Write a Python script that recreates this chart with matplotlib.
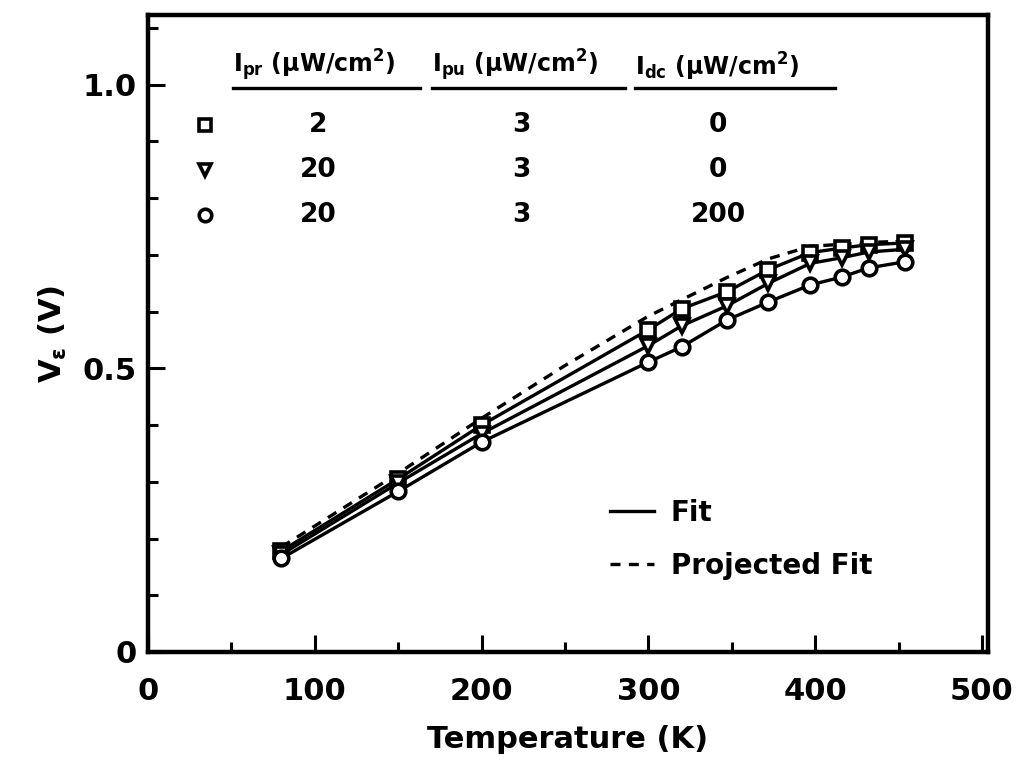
import matplotlib
matplotlib.use("Agg")
import matplotlib.pyplot as plt
from matplotlib.lines import Line2D

plt.rcParams['font.family'] = ['DejaVu Sans']
plt.rcParams['font.weight'] = 'bold'
plt.rcParams['mathtext.default'] = 'bf'

# Data
temperature = [80, 150, 200, 300, 320, 347, 372, 397, 416, 432, 454]
v_square = [0.178, 0.305, 0.400, 0.568, 0.605, 0.635, 0.674, 0.704, 0.712, 0.718, 0.721]
v_triangle = [0.172, 0.298, 0.385, 0.540, 0.575, 0.610, 0.650, 0.685, 0.695, 0.705, 0.710]
v_circle = [0.165, 0.283, 0.370, 0.511, 0.538, 0.585, 0.617, 0.647, 0.661, 0.677, 0.688]
proj_T = [80, 150, 200, 250, 300, 347, 372, 397, 432, 454]
proj_V = [0.185, 0.315, 0.412, 0.505, 0.592, 0.660, 0.693, 0.715, 0.722, 0.724]

table_markers = ['s', 'v', 'o']
col_pr = ['2', '20', '20']
col_pu = ['3', '3', '3']
col_dc = ['0', '0', '200']
headers = [r'I$_{pr}$ ($\mu$W/cm$^2$)', r'I$_{pu}$ ($\mu$W/cm$^2$)', r'I$_{dc}$ ($\mu$W/cm$^2$)']

x_ticks = [0, 100, 200, 300, 400, 500]
y_ticks = [0, 0.5, 1.0]
y_ticklabels = ['0', '0.5', '1.0']

fig = plt.figure(figsize=(10.18, 7.62), dpi=100)
ax = fig.add_axes([0.1454, 0.1444, 0.8251, 0.836])

lw = 2.4
mk = dict(markerfacecolor='white', markeredgecolor='black', markeredgewidth=2.6, markersize=10.5)
ax.plot(proj_T, proj_V, color='black', lw=lw, ls=(0, (3, 2.5)))
ax.plot(temperature, v_square, color='black', lw=lw, marker='s', **mk)
ax.plot(temperature, v_triangle, color='black', lw=lw, marker='v', **mk)
ax.plot(temperature, v_circle, color='black', lw=lw, marker='o', **mk)

ax.set_xlim(0, 503.6)
ax.set_ylim(0, 1.123)
ax.set_xticks(x_ticks)
ax.set_xticks(range(50, 500, 100), minor=True)
ax.set_yticks(y_ticks)
ax.set_yticklabels(y_ticklabels)
ax.set_yticks([0.1, 0.2, 0.3, 0.4, 0.6, 0.7, 0.8, 0.9, 1.1], minor=True)
ax.tick_params(which='both', direction='in', width=2.2, labelsize=22)
ax.tick_params(which='major', length=12)
ax.tick_params(which='minor', length=7)
ax.tick_params(axis='x', pad=18)
ax.tick_params(axis='y', pad=8)
for s in ax.spines.values():
    s.set_linewidth(3.2)

ax.set_xlabel('Temperature (K)', fontsize=22, fontweight='bold', labelpad=14)
ax.set_ylabel(r'V$_\varepsilon$ (V)', fontsize=22, fontweight='bold', labelpad=10)

# table
hx = [51, 170, 292]
for h, x0 in zip(headers, hx):
    ax.text(x0, 1.003, h, fontsize=17, fontweight='bold', ha='left', va='bottom')
for x0, x1 in [(51, 163), (170, 286), (292, 412)]:
    ax.plot([x0, x1], [0.995, 0.995], color='black', lw=2.4, clip_on=False)
rows_y = [0.929, 0.850, 0.771]
for m, a, b, c, yy in zip(table_markers, col_pr, col_pu, col_dc, rows_y):
    ax.plot([34], [yy], marker=m, color='black', markerfacecolor='white',
            markeredgewidth=2.6, markersize=9, ls='none')
    ax.text(102, yy, a, fontsize=19, fontweight='bold', ha='center', va='center')
    ax.text(224, yy, b, fontsize=19, fontweight='bold', ha='center', va='center')
    ax.text(342, yy, c, fontsize=19, fontweight='bold', ha='center', va='center')

handles = [Line2D([], [], color='black', lw=lw),
           Line2D([], [], color='black', lw=lw, ls=(0, (3, 2.5)))]
ax.legend(handles, ['Fit', 'Projected Fit'], loc='upper left', bbox_to_anchor=(0.52, 0.28),
          frameon=False, fontsize=20, handlelength=1.6, handletextpad=0.6, labelspacing=0.9)

fig.savefig('out.png', dpi=100)
